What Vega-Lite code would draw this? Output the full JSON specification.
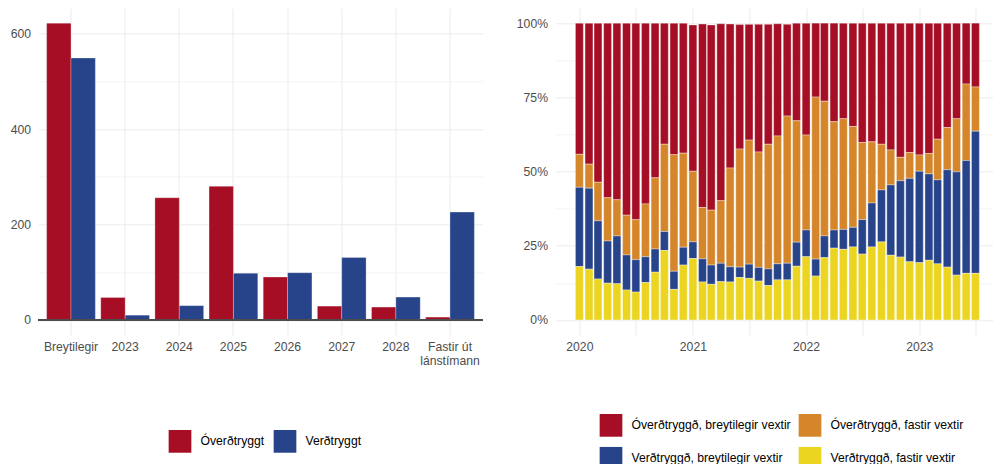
{
  "$schema": "https://vega.github.io/schema/vega-lite/v6.json",
  "background": "white",
  "padding": {"left": 9.5, "top": 8.3, "right": 0, "bottom": 0},
  "spacing": 32,
  "config": {
    "view": {"stroke": null},
    "font": "Liberation Sans",
    "axis": {
      "domain": false,
      "ticks": false,
      "tickSize": 0,
      "labelFont": "Liberation Sans",
      "labelFontSize": 12.2,
      "labelColor": "#4d4d4d",
      "gridColor": "#ebebeb",
      "gridWidth": 1,
      "title": null
    },
    "legend": {
      "labelFont": "Liberation Sans",
      "labelFontSize": 12.2,
      "labelColor": "#000000",
      "symbolType": "square",
      "symbolSize": 515,
      "symbolStrokeWidth": 0,
      "symbolOpacity": 1,
      "labelOffset": 9,
      "columnPadding": 9,
      "rowPadding": 10,
      "padding": 0,
      "labelLimit": 400
    }
  },
  "datasets": {
    "maturity": [
      {"c": "Breytilegir", "g": "Óverðtryggt", "v": 622},
      {"c": "Breytilegir", "g": "Verðtryggt", "v": 549},
      {"c": "2023", "g": "Óverðtryggt", "v": 47},
      {"c": "2023", "g": "Verðtryggt", "v": 10},
      {"c": "2024", "g": "Óverðtryggt", "v": 256},
      {"c": "2024", "g": "Verðtryggt", "v": 30},
      {"c": "2025", "g": "Óverðtryggt", "v": 280},
      {"c": "2025", "g": "Verðtryggt", "v": 98},
      {"c": "2026", "g": "Óverðtryggt", "v": 90},
      {"c": "2026", "g": "Verðtryggt", "v": 99},
      {"c": "2027", "g": "Óverðtryggt", "v": 29},
      {"c": "2027", "g": "Verðtryggt", "v": 131},
      {"c": "2028", "g": "Óverðtryggt", "v": 27},
      {"c": "2028", "g": "Verðtryggt", "v": 48},
      {"c": "Fastir út lánstímann", "g": "Óverðtryggt", "v": 6},
      {"c": "Fastir út lánstímann", "g": "Verðtryggt", "v": 226}
    ],
    "groups": [
      {"k": "vf", "label": "Verðtryggð, fastir vextir", "rank": 1},
      {"k": "vb", "label": "Verðtryggð, breytilegir vextir", "rank": 2},
      {"k": "of", "label": "Óverðtryggð, fastir vextir", "rank": 3},
      {"k": "ob", "label": "Óverðtryggð, breytilegir vextir", "rank": 4}
    ],
    "shares": [
      {"d": "2020-01-01", "vf": 0.180, "vb": 0.267, "of": 0.111, "ob": 0.442},
      {"d": "2020-02-01", "vf": 0.171, "vb": 0.273, "of": 0.081, "ob": 0.475},
      {"d": "2020-03-01", "vf": 0.138, "vb": 0.196, "of": 0.130, "ob": 0.536},
      {"d": "2020-04-01", "vf": 0.124, "vb": 0.142, "of": 0.146, "ob": 0.588},
      {"d": "2020-05-01", "vf": 0.122, "vb": 0.161, "of": 0.122, "ob": 0.595},
      {"d": "2020-06-01", "vf": 0.101, "vb": 0.118, "of": 0.134, "ob": 0.647},
      {"d": "2020-07-01", "vf": 0.094, "vb": 0.109, "of": 0.135, "ob": 0.662},
      {"d": "2020-08-01", "vf": 0.126, "vb": 0.087, "of": 0.178, "ob": 0.609},
      {"d": "2020-09-01", "vf": 0.161, "vb": 0.078, "of": 0.240, "ob": 0.521},
      {"d": "2020-10-01", "vf": 0.234, "vb": 0.064, "of": 0.294, "ob": 0.408},
      {"d": "2020-11-01", "vf": 0.103, "vb": 0.061, "of": 0.393, "ob": 0.443},
      {"d": "2020-12-01", "vf": 0.185, "vb": 0.060, "of": 0.317, "ob": 0.438},
      {"d": "2021-01-01", "vf": 0.207, "vb": 0.056, "of": 0.238, "ob": 0.493},
      {"d": "2021-02-01", "vf": 0.128, "vb": 0.078, "of": 0.173, "ob": 0.618},
      {"d": "2021-03-01", "vf": 0.120, "vb": 0.065, "of": 0.185, "ob": 0.624},
      {"d": "2021-04-01", "vf": 0.129, "vb": 0.062, "of": 0.211, "ob": 0.596},
      {"d": "2021-05-01", "vf": 0.128, "vb": 0.051, "of": 0.333, "ob": 0.485},
      {"d": "2021-06-01", "vf": 0.143, "vb": 0.035, "of": 0.398, "ob": 0.419},
      {"d": "2021-07-01", "vf": 0.140, "vb": 0.048, "of": 0.418, "ob": 0.390},
      {"d": "2021-08-01", "vf": 0.131, "vb": 0.046, "of": 0.389, "ob": 0.430},
      {"d": "2021-09-01", "vf": 0.116, "vb": 0.056, "of": 0.420, "ob": 0.404},
      {"d": "2021-10-01", "vf": 0.135, "vb": 0.054, "of": 0.431, "ob": 0.378},
      {"d": "2021-11-01", "vf": 0.135, "vb": 0.056, "of": 0.496, "ob": 0.309},
      {"d": "2021-12-01", "vf": 0.181, "vb": 0.081, "of": 0.409, "ob": 0.329},
      {"d": "2022-01-01", "vf": 0.213, "vb": 0.090, "of": 0.320, "ob": 0.377},
      {"d": "2022-02-01", "vf": 0.148, "vb": 0.057, "of": 0.546, "ob": 0.249},
      {"d": "2022-03-01", "vf": 0.210, "vb": 0.073, "of": 0.454, "ob": 0.263},
      {"d": "2022-04-01", "vf": 0.242, "vb": 0.061, "of": 0.365, "ob": 0.332},
      {"d": "2022-05-01", "vf": 0.238, "vb": 0.067, "of": 0.373, "ob": 0.322},
      {"d": "2022-06-01", "vf": 0.246, "vb": 0.066, "of": 0.340, "ob": 0.348},
      {"d": "2022-07-01", "vf": 0.222, "vb": 0.116, "of": 0.260, "ob": 0.402},
      {"d": "2022-08-01", "vf": 0.246, "vb": 0.148, "of": 0.206, "ob": 0.400},
      {"d": "2022-09-01", "vf": 0.263, "vb": 0.175, "of": 0.154, "ob": 0.408},
      {"d": "2022-10-01", "vf": 0.218, "vb": 0.237, "of": 0.118, "ob": 0.427},
      {"d": "2022-11-01", "vf": 0.212, "vb": 0.257, "of": 0.079, "ob": 0.452},
      {"d": "2022-12-01", "vf": 0.196, "vb": 0.281, "of": 0.087, "ob": 0.436},
      {"d": "2023-01-01", "vf": 0.193, "vb": 0.308, "of": 0.055, "ob": 0.444},
      {"d": "2023-02-01", "vf": 0.201, "vb": 0.291, "of": 0.069, "ob": 0.439},
      {"d": "2023-03-01", "vf": 0.189, "vb": 0.283, "of": 0.137, "ob": 0.391},
      {"d": "2023-04-01", "vf": 0.178, "vb": 0.328, "of": 0.142, "ob": 0.352},
      {"d": "2023-05-01", "vf": 0.151, "vb": 0.348, "of": 0.179, "ob": 0.322},
      {"d": "2023-06-01", "vf": 0.157, "vb": 0.380, "of": 0.258, "ob": 0.205},
      {"d": "2023-07-01", "vf": 0.157, "vb": 0.479, "of": 0.149, "ob": 0.215}
    ]
  },
  "resolve": {"scale": {"color": "independent"}, "legend": {"color": "independent"}},
  "hconcat": [
    {
      "width": 444,
      "height": 326.5,
      "data": {"name": "maturity"},
      "layer": [
        {
          "mark": {"type": "bar", "stroke": "white", "strokeWidth": 0.4, "strokeOpacity": 0.7},
          "encoding": {
            "x": {
              "field": "c",
              "type": "nominal",
              "sort": ["Breytilegir", "2023", "2024", "2025", "2026", "2027", "2028", "Fastir út lánstímann"],
              "scale": {"paddingInner": 0.1, "paddingOuter": 0.15},
              "axis": {
                "grid": true,
                "bandPosition": 0.5,
                "labelAngle": 0,
                "labelPadding": 6,
                "labelLineHeight": 14,
                "labelExpr": "datum.label === 'Fastir út lánstímann' ? ['Fastir út', 'lánstímann'] : datum.label"
              }
            },
            "xOffset": {
              "field": "g",
              "type": "nominal",
              "sort": ["Óverðtryggt", "Verðtryggt"],
              "scale": {"paddingInner": 0, "paddingOuter": 0}
            },
            "y": {
              "field": "v",
              "type": "quantitative",
              "stack": null,
              "scale": {"domain": [-31.1, 653.1], "nice": false, "zero": false},
              "axis": {
                "values": [0, 100, 200, 300, 400, 500, 600],
                "labelExpr": "datum.value % 200 === 0 ? datum.label : ''",
                "labelPadding": 8,
                "gridColor": {"condition": {"test": "datum.value % 200 !== 0", "value": "#f3f3f3"}, "value": "#ebebeb"}
              }
            },
            "color": {
              "field": "g",
              "type": "nominal",
              "scale": {"domain": ["Óverðtryggt", "Verðtryggt"], "range": ["#a50e24", "#27438a"]},
              "legend": {"orient": "none", "legendX": 130, "legendY": 421.5, "direction": "horizontal", "title": null}
            }
          }
        },
        {
          "mark": {"type": "rule", "color": "#4d4d4d", "strokeWidth": 1.2},
          "encoding": {"y": {"datum": 0}}
        }
      ]
    },
    {
      "width": 437,
      "height": 326.5,
      "data": {"name": "shares"},
      "transform": [
        {"fold": ["ob", "of", "vb", "vf"], "as": ["k", "v"]},
        {"lookup": "k", "from": {"data": {"name": "groups"}, "key": "k", "fields": ["label", "rank"]}}
      ],
      "mark": {"type": "bar", "width": 7.9, "stroke": "white", "strokeWidth": 0.5, "strokeOpacity": 0.7},
      "encoding": {
        "x": {
          "field": "d",
          "type": "temporal",
          "scale": {
            "type": "utc",
            "nice": false,
            "padding": 0,
            "domain": [{"year": 2019, "month": 10, "date": 16, "utc": true}, {"year": 2023, "month": 8, "date": 25, "utc": true}]
          },
          "axis": {
            "grid": true,
            "labelPadding": 6,
            "values": [
              {"year": 2020, "month": 1, "date": 1, "utc": true},
              {"year": 2020, "month": 7, "date": 1, "utc": true},
              {"year": 2021, "month": 1, "date": 1, "utc": true},
              {"year": 2021, "month": 7, "date": 1, "utc": true},
              {"year": 2022, "month": 1, "date": 1, "utc": true},
              {"year": 2022, "month": 7, "date": 1, "utc": true},
              {"year": 2023, "month": 1, "date": 1, "utc": true},
              {"year": 2023, "month": 7, "date": 1, "utc": true}
            ],
            "labelExpr": "utcmonth(datum.value) === 0 ? utcFormat(datum.value, '%Y') : ''"
          }
        },
        "y": {
          "field": "v",
          "type": "quantitative",
          "stack": "zero",
          "scale": {"domain": [-0.05, 1.05], "nice": false, "zero": false},
          "axis": {
            "values": [0, 0.125, 0.25, 0.375, 0.5, 0.625, 0.75, 0.875, 1],
            "format": ".0%",
            "labelExpr": "(datum.value * 4) % 1 === 0 ? datum.label : ''",
            "labelPadding": 8,
            "gridColor": {"condition": {"test": "(datum.value * 4) % 1 !== 0", "value": "#f3f3f3"}, "value": "#ebebeb"}
          }
        },
        "color": {
          "field": "label",
          "type": "nominal",
          "scale": {
            "domain": ["Óverðtryggð, breytilegir vextir", "Óverðtryggð, fastir vextir", "Verðtryggð, breytilegir vextir", "Verðtryggð, fastir vextir"],
            "range": ["#a50e24", "#d5862a", "#27438a", "#ebd520"]
          },
          "legend": {"orient": "none", "legendX": 44, "legendY": 405.5, "direction": "horizontal", "columns": 2, "columnPadding": 7, "title": null}
        },
        "order": {"field": "rank", "type": "quantitative", "sort": "ascending"}
      }
    }
  ]
}
